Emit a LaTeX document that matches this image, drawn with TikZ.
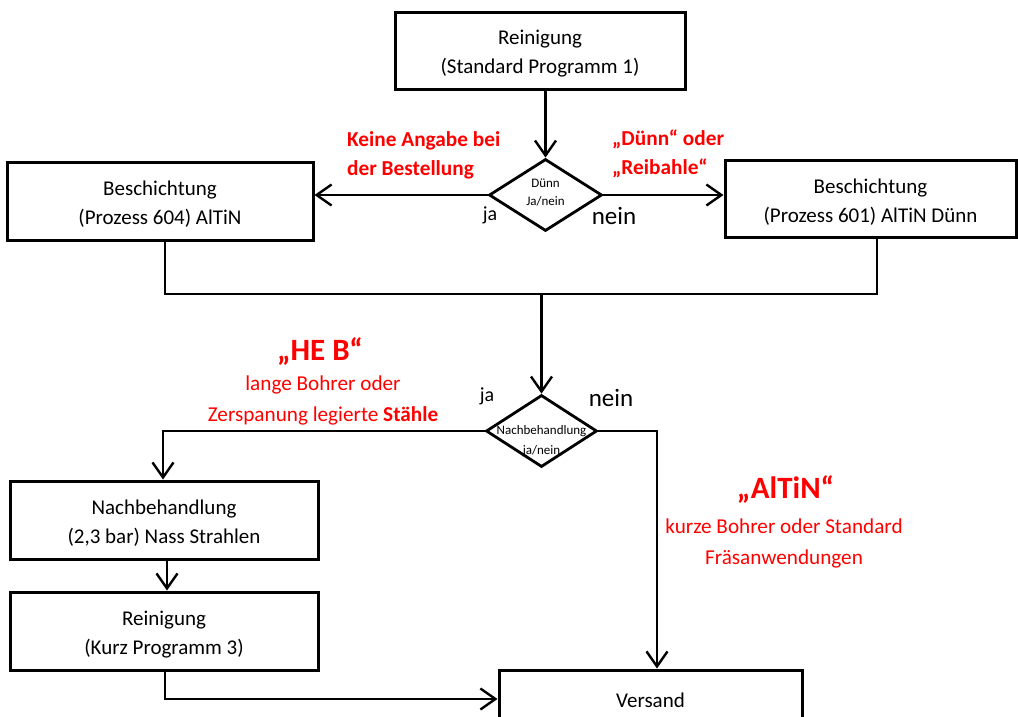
\documentclass[tikz,border=0pt]{standalone}
\usepackage{fontspec}
\setmainfont{Carlito}
\usetikzlibrary{arrows.meta,shapes.geometric}
\definecolor{lbl}{RGB}{255,0,0}
\newcommand\upstrut{\rule{0pt}{21pt}}
\tikzset{
  line/.style={line width=2.8pt},
  arr/.style={line width=2.8pt,-{Straight Barb[length=15pt,width=21pt,line width=2.4pt]}},
  box/.style={draw,line width=3pt,rectangle,align=center,inner sep=0pt,
     font=\fontsize{21}{29}\selectfont},
  dia/.style={draw,line width=2.8pt,diamond,inner sep=0pt},
  redb/.style={text=lbl,font=\bfseries\fontsize{21.3}{29}\selectfont,inner sep=0pt},
  redn/.style={text=lbl,font=\fontsize{21.2}{31}\selectfont,inner sep=0pt,align=center},
  big/.style={text=lbl,font=\bfseries\fontsize{31}{33}\selectfont,inner sep=0pt},
  yn/.style={inner sep=0pt,font=\fontsize{20}{24}\selectfont},
  ynbig/.style={inner sep=0pt,font=\fontsize{25}{28}\selectfont},
}
\begin{document}
\begin{tikzpicture}[x=1pt,y=-1pt]
\useasboundingbox (0,0) rectangle (1018,716);
% boxes
\node[box,minimum width=290pt,minimum height=77pt] (top) at (540,50.5) {\upstrut Reinigung\\(Standard Programm 1)};
\node[box,minimum width=306pt,minimum height=78pt] (left) at (160,201) {\upstrut Beschichtung\\(Prozess 604) AlTiN};
\node[box,minimum width=291pt,minimum height=77pt] (right) at (870.5,198.5) {\upstrut Beschichtung\\(Prozess 601) AlTiN Dünn};
\node[box,minimum width=308pt,minimum height=78pt] (nach) at (164,520) {\upstrut Nachbehandlung\\(2,3 bar) Nass Strahlen};
\node[box,minimum width=308pt,minimum height=78pt] (kurz) at (164,631) {\upstrut Reinigung\\(Kurz Programm 3)};
\node[box,minimum width=303pt,minimum height=60pt] (vers) at (650.5,700) {Versand};
% diamonds
\node[dia,minimum width=113pt,minimum height=72pt] (d1) at (545.5,195) {};
\node[inner sep=0pt,font=\fontsize{13}{18}\selectfont,align=center] (d1t) at (545.5,192) {Dünn\\Ja/nein};
\node[dia,minimum width=111pt,minimum height=72pt] (d2) at (541.5,431) {};
\node[inner sep=0pt,font=\fontsize{13}{20}\selectfont,align=center] (d2t) at (541.5,441) {Nachbehandlung\\ja/nein};
% junction coordinates
\coordinate (j1) at (165,294);
\coordinate (j2) at (877,294);
\coordinate (jm) at (541.5,294);
\coordinate (jl) at (163,431);
\coordinate (jr) at (657,431);
\coordinate (jb) at (165,699);
% connectors
\draw[arr] (top.south -| d1.north) -- (d1.north);
\draw[arr] (d1.west) -- (left.east |- d1.west);
\draw[arr] (d1.east) -- (right.west |- d1.east);
\draw[line] (left.south -| j1) -- (j1) -- (j2) -- (right.south -| j2);
\draw[arr] (jm) -- (d2.north);
\draw[arr] (d2.west) -- (jl) -- (nach.north -| jl);
\draw[arr] (nach.south -| 167,0) -- (kurz.north -| 167,0);
\draw[arr] (kurz.south -| jb) -- (jb) -- (vers.west |- jb);
\draw[arr] (d2.east) -- (jr) -- (vers.north -| jr);
% labels
\node[redb,align=left,anchor=west] (l1) at (347,155) {Keine Angabe bei\\der Bestellung};
\node[redb,align=left,anchor=west] (l2) at (612,154) {„Dünn“ oder\\„Reibahle“};
\node[yn] (ja1) at (490,215) {ja};
\node[ynbig] (nein1) at (614,216) {nein};
\node[big] (heb) at (320,351) {„HE B“};
\node[redn] (heb2) at (323,400.5) {lange Bohrer oder\\Zerspanung legierte \textbf{Stähle}};
\node[yn] (ja2) at (487,396) {ja};
\node[ynbig] (nein2) at (611,398) {nein};
\node[big] (alt) at (785.5,489) {„AlTiN“};
\node[redn] (alt2) at (784,543.5) {kurze Bohrer oder Standard\\Fräsanwendungen};
\end{tikzpicture}
\end{document}
